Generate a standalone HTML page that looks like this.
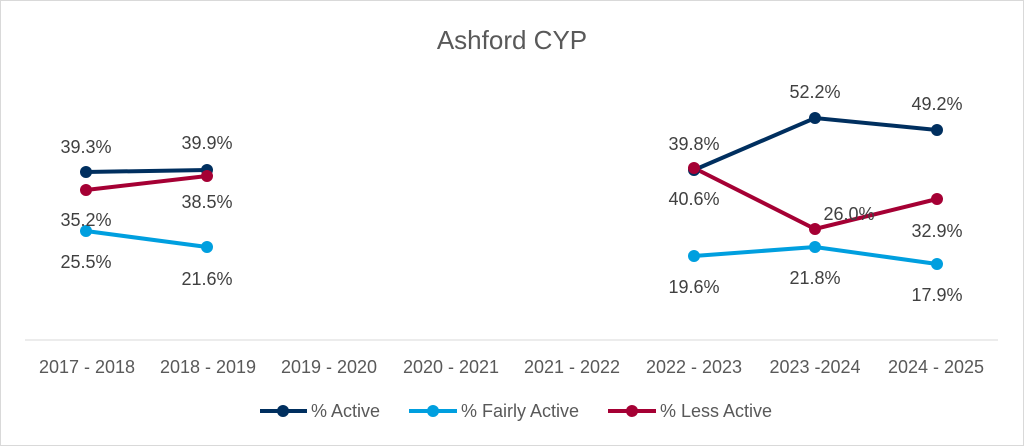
<!DOCTYPE html>
<html><head><meta charset="utf-8"><style>
body{margin:0;background:#fff;}
svg{display:block;font-family:"Liberation Sans",sans-serif;}
</style></head><body>
<svg width="1024" height="446" viewBox="0 0 1024 446">
<rect x="0.5" y="0.5" width="1023" height="445" fill="#fff" stroke="#d9d9d9"/>
<text x="512" y="49" font-size="26" fill="#595959" text-anchor="middle">Ashford CYP</text>
<line x1="25" y1="340" x2="998" y2="340" stroke="#d9d9d9" stroke-width="1"/>
<g font-size="18" fill="#595959" text-anchor="middle">
<text x="87" y="373">2017 - 2018</text>
<text x="208" y="373">2018 - 2019</text>
<text x="329" y="373">2019 - 2020</text>
<text x="451" y="373">2020 - 2021</text>
<text x="572" y="373">2021 - 2022</text>
<text x="694" y="373">2022 - 2023</text>
<text x="815" y="373">2023 -2024</text>
<text x="936" y="373">2024 - 2025</text>
</g>
<g stroke-width="4" fill="none">
<polyline points="86,172 207,170" stroke="#002f5f"/>
<polyline points="694,170 815,118 937,130" stroke="#002f5f"/>
<polyline points="86,231 207,247" stroke="#009fdf"/>
<polyline points="694,256 815,247 937,264" stroke="#009fdf"/>
<polyline points="86,190 207,176" stroke="#a50034"/>
<polyline points="694,168 815,229 937,199" stroke="#a50034"/>
</g>
<g fill="#002f5f"><circle cx="86" cy="172" r="6"/><circle cx="207" cy="170" r="6"/><circle cx="694" cy="170" r="6"/><circle cx="815" cy="118" r="6"/><circle cx="937" cy="130" r="6"/></g>
<g fill="#009fdf"><circle cx="86" cy="231" r="6"/><circle cx="207" cy="247" r="6"/><circle cx="694" cy="256" r="6"/><circle cx="815" cy="247" r="6"/><circle cx="937" cy="264" r="6"/></g>
<g fill="#a50034"><circle cx="86" cy="190" r="6"/><circle cx="207" cy="176" r="6"/><circle cx="694" cy="168" r="6"/><circle cx="815" cy="229" r="6"/><circle cx="937" cy="199" r="6"/></g>
<g font-size="18" fill="#404040" text-anchor="middle">
<text x="86" y="153">39.3%</text>
<text x="207" y="149">39.9%</text>
<text x="694" y="150">39.8%</text>
<text x="815" y="98">52.2%</text>
<text x="937" y="110">49.2%</text>
<text x="86" y="226">35.2%</text>
<text x="207" y="208">38.5%</text>
<text x="694" y="205">40.6%</text>
<text x="849" y="220">26.0%</text>
<text x="937" y="237">32.9%</text>
<text x="86" y="268">25.5%</text>
<text x="207" y="285">21.6%</text>
<text x="694" y="293">19.6%</text>
<text x="815" y="284">21.8%</text>
<text x="937" y="301">17.9%</text>
</g>
<g stroke-width="4">
<line x1="260" y1="411" x2="307" y2="411" stroke="#002f5f"/><circle cx="283" cy="411" r="6" fill="#002f5f"/>
<line x1="409" y1="411" x2="457" y2="411" stroke="#009fdf"/><circle cx="433" cy="411" r="6" fill="#009fdf"/>
<line x1="608" y1="411" x2="656" y2="411" stroke="#a50034"/><circle cx="632" cy="411" r="6" fill="#a50034"/>
</g>
<g font-size="18" fill="#595959">
<text x="311" y="417">% Active</text>
<text x="461" y="417">% Fairly Active</text>
<text x="660" y="417">% Less Active</text>
</g>
</svg>
</body></html>
